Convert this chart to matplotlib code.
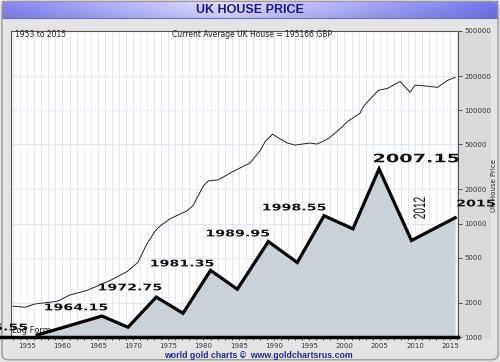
import numpy as np
import matplotlib.pyplot as plt
from matplotlib.ticker import FixedLocator, MultipleLocator, FuncFormatter
from matplotlib.textpath import TextPath
from matplotlib.patches import PathPatch, FancyBboxPatch
from matplotlib.font_manager import FontProperties
from matplotlib.transforms import Affine2D, ScaledTranslation
from matplotlib.lines import Line2D

# average UK house price (GBP)
years = [1953, 1954.7, 1956, 1959.3, 1961, 1963.5, 1966.8, 1969.2, 1970.7, 1972,
         1973.2, 1973.9, 1975.3, 1977.7, 1978.5, 1980, 1980.7, 1982.1, 1983.8,
         1986.6, 1988, 1988.8, 1989.8, 1990.9, 1991.9, 1993, 1995.1, 1996.1,
         1997.6, 1999, 2000.5, 2002.2, 2002.7, 2004.8, 2006.1, 2007.9, 2009.3,
         2010, 2010.7, 2013.2, 2014.6, 2015.7]
price = [1870, 1830, 1950, 2070, 2340, 2580, 3160, 3790, 4550, 6680,
         8680, 9600, 11060, 13000, 14380, 21550, 23850, 24300, 28000,
         34300, 43700, 53500, 61500, 55700, 51400, 49300, 51400, 50300,
         55700, 65400, 80100, 94200, 108400, 149700, 155900, 179600, 143800,
         165700, 165700, 159200, 183300, 195200]

# cycle zigzag (log form)
cyc_years = [1956.4, 1965.6, 1969.3, 1973.3, 1977.1, 1981.0, 1984.8, 1989.2,
             1993.3, 1997.1, 2001.2, 2004.9, 2009.5, 2015.7]
cyc_vals = [1040, 1530, 1220, 2250, 1620, 3870, 2640, 6950,
            4540, 11740, 9000, 30400, 7100, 11270]

cyc_labels = ['1955.55', '1964.15', '1972.75', '1981.35', '1989.95', '1998.55', '2007.15', '2015']
lab_x = [1955.0, 1961.95, 1969.6, 1977.0, 1984.9, 1992.9, 2010.2, 2016.0]
lab_y = [1225, 1840, 2760, 4490, 8260, 14000, 37900, 15190]

yticks = [1000, 2000, 5000, 10000, 20000, 50000, 100000, 200000, 500000]

fig = plt.figure(figsize=(5.0, 3.62), dpi=100, facecolor='#e4e4e4')

# background / title band
bg = fig.add_axes([0, 0, 1, 1], zorder=-10)
bg.set_xlim(0, 1)
bg.set_ylim(0, 1)
bg.axis('off')
t = np.linspace(0, 1, 300)
left = np.array([0.50, 0.50, 0.92])
mid = np.array([0.84, 0.84, 1.00])
right = np.array([0.44, 0.44, 0.90])
w = np.clip(t / 0.45, 0, 1)[:, None]
w2 = np.clip((t - 0.45) / 0.55, 0, 1)[:, None]
row = np.where(t[:, None] < 0.45, left * (1 - w) + mid * w, mid * (1 - w2) + right * w2)
vert = np.linspace(1.06, 0.94, 20)[:, None, None]
band = np.clip(row[None, :, :] * vert, 0, 1)
bg.imshow(band, extent=[0.004, 0.996, 1 - 18 / 362, 0.997], aspect='auto', zorder=1)
bg.add_line(Line2D([0.004, 0.996], [1 - 18 / 362] * 2, color='#6a6ad0', lw=0.8, zorder=2))
bg.add_patch(FancyBboxPatch((0.004, 0.006), 0.992, 0.99, boxstyle='round,pad=0,rounding_size=0.015',
                            fill=False, ec='#9a9a9a', lw=1.0, zorder=3))
# right margin a bit darker
bg.add_patch(plt.Rectangle((458 / 500, 25 / 362), 32 / 500, 306 / 362, color='#dadada', zorder=0))

ax = fig.add_axes([11 / 500, 25 / 362, 447 / 500, 306 / 362])
ax.set_facecolor('white')
ax.set_yscale('log')
ax.set_xlim(1952.7, 2016.1)
ax.set_ylim(1000, 500000)

ax.fill_between(cyc_years, cyc_vals, 1000, color='#c9d1d9', zorder=3, lw=0)
ax.plot(cyc_years, cyc_vals, color='black', lw=2.3, zorder=4, solid_joinstyle='miter')
ax.plot(years, price, color='#222222', lw=0.7, zorder=4)

# grid
ax.xaxis.set_major_locator(MultipleLocator(5))
ax.xaxis.set_minor_locator(MultipleLocator(1))
ax.yaxis.set_major_locator(FixedLocator(yticks))
ax.yaxis.set_minor_locator(FixedLocator([]))
ax.yaxis.set_major_formatter(FuncFormatter(lambda v, p: '%d' % v))
ax.grid(which='both', axis='x', color='#dfe9f6', lw=0.7)
ax.grid(which='major', axis='y', color='#dfe9f6', lw=0.7)
ax.set_axisbelow(True)

ax.yaxis.tick_right()
ax.tick_params(axis='y', labelsize=5, colors='#333333', length=3, width=0.6, pad=1.5)
ax.tick_params(axis='x', which='major', labelsize=5, colors='#333333', length=2.5, width=0.6, pad=1.5)
ax.tick_params(axis='x', which='minor', length=2, width=0.6, colors='#333333')
for s in ax.spines.values():
    s.set_color('#555555')
    s.set_linewidth(0.8)

# thick base line
fig.add_artist(Line2D([0, 458 / 500], [25 / 362, 25 / 362], color='black', lw=2.5, zorder=5))

ax.text(0.009, 0.987, '1953 to 2015', transform=ax.transAxes, fontsize=5.5, va='center', ha='left', color='#222222')
ax.text(0.539, 0.987, 'Current Average UK House = 195166 GBP', transform=ax.transAxes,
        fontsize=5.5, va='center', ha='center', color='#222222')
ax.text(0.003, 0.02, 'Log Form', transform=ax.transAxes, fontsize=6, va='center', ha='left',
        color='#222222', zorder=2)


def wide_text(x, y, s, size, sx=1.0, sy=1.0, rot=0, ha='center', weight='bold', family='DejaVu Sans'):
    tp = TextPath((0, 0), s, size=size, prop=FontProperties(family=family, weight=weight))
    ext = tp.get_extents()
    if ha == 'center':
        x0 = (ext.x0 + ext.x1) / 2
    elif ha == 'left':
        x0 = ext.x0
    else:
        x0 = ext.x1
    y0 = (ext.y0 + ext.y1) / 2
    k = fig.dpi / 72
    tr = Affine2D().translate(-x0, -y0).scale(sx * k, sy * k).rotate_deg(rot) + \
        ScaledTranslation(x, y, ax.transData)
    p = PathPatch(tp, transform=tr, facecolor='#111111', lw=0, zorder=6, clip_on=False)
    ax.add_artist(p)


for i, s in enumerate(cyc_labels):
    if s == '2007.15':
        wide_text(lab_x[i], lab_y[i], s, 8.4, sx=1.65)
    elif s == '2015':
        wide_text(lab_x[i], lab_y[i], s, 6.6, sx=1.55, ha='left')
    elif s == '1955.55':
        wide_text(lab_x[i], lab_y[i], s, 6.6, sx=1.55, ha='right')
    else:
        wide_text(lab_x[i], lab_y[i], s, 6.6, sx=1.55)
wide_text(2010.6, 13730, '2012', 12, sx=0.6, rot=90, weight='normal', family='Liberation Sans')

fig.text(0.5, 1 - 10 / 362, 'UK HOUSE PRICE', ha='center', va='center', fontsize=9,
         fontweight='bold', color='#1a1a85', family='Liberation Sans')
fig.text(258 / 500, 1 - 355 / 362, 'world gold charts \u00a9  www.goldchartsrus.com', ha='center', va='center',
         fontsize=6.3, fontweight='bold', color='#1e2a8c', family='Liberation Sans')
fig.text(494 / 500, 1 - 185 / 362, 'UK House Price', rotation=90, ha='center', va='center',
         fontsize=5, color='#222222')

fig.savefig('out.png', dpi=100, facecolor=fig.get_facecolor())
